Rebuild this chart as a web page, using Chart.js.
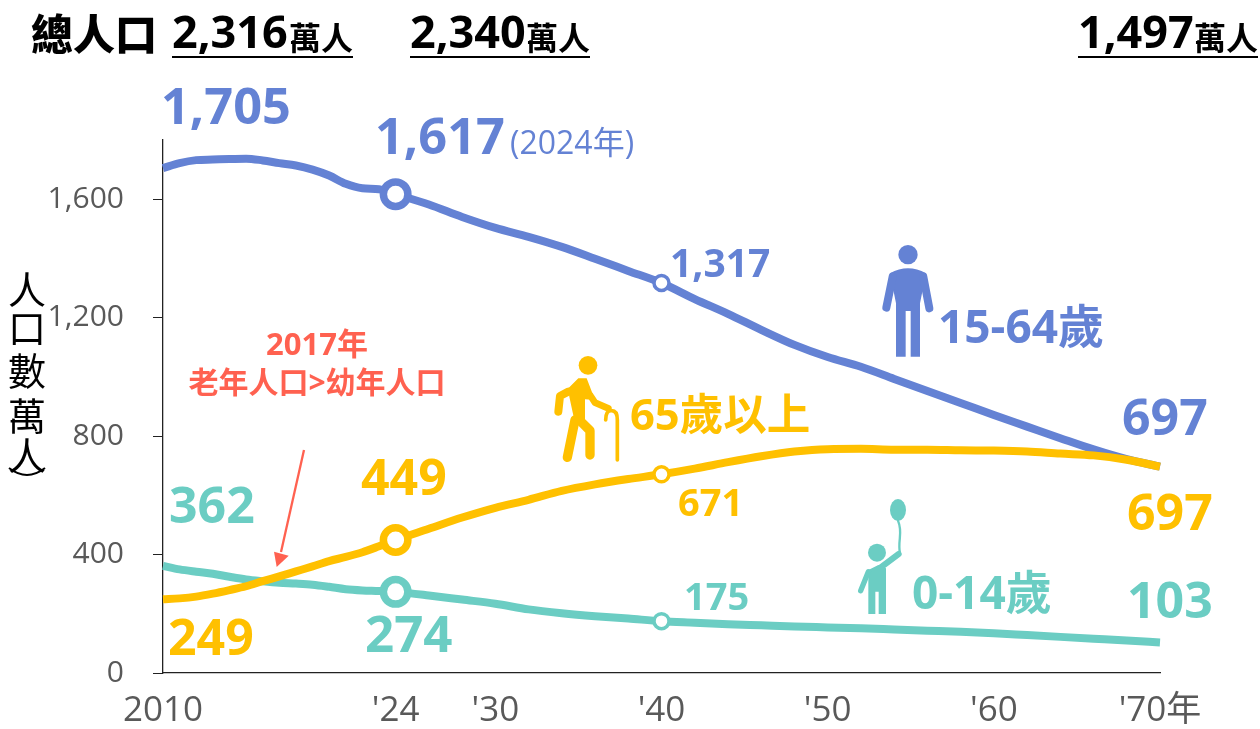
<!DOCTYPE html>
<html><head><meta charset="utf-8">
<style>html,body{margin:0;padding:0;background:#fff}canvas{display:block}</style>
<script src="https://cdn.jsdelivr.net/npm/chart.js@4/dist/chart.umd.min.js"></script>
</head><body><div style="width:1260px;height:729px"><canvas id="c" width="1260" height="729"></canvas></div>
<script>
const years=[2010,2011,2012,2013,2014,2015,2016,2017,2018,2019,2020,2021,2022,2023,2024,2026,2028,2030,2032,2034,2036,2038,2040,2042,2044,2046,2048,2050,2052,2054,2056,2058,2060,2062,2064,2066,2068,2070];
const working=[1705,1722,1732,1734,1736,1737,1731,1722,1714,1700,1680,1652,1637,1634,1617,1582,1540,1503,1473,1439,1399,1358,1317,1263,1213,1159,1108,1067,1034,993,952,912,871,832,793,755,722,697];
const elderly=[249,252,258,268,280,293,310,326,343,360,378,392,408,428,449,487,525,558,585,615,637,655,671,690,712,732,748,756,757,754,754,752,751,748,741,735,720,697];
const children=[362,350,342,335,325,316,310,305,302,298,291,283,279,277,274,262,248,234,215,202,192,184,175,170,165,161,157,154,151,147,143,139,134,128,122,116,110,103];
const xTicks=[2010,2024,2030,2040,2050,2060,2070];
const xTickLabels=["2010","'24","'30","'40","'50","'60","'70年"];
const yTicks=[0,400,800,1200,1600];
const BLUE='#6482D4',GOLD='#FFC000',TEAL='#6BCDC3',RED='#FF6150';
const SANS="'Open Sans','Noto Sans CJK TC',sans-serif";

function markerRadius(ctx){const v=ctx.chart.data.labels[ctx.dataIndex];return v===2024?12.25:v===2040?7.5:0;}
function markerWidth(ctx){const v=ctx.chart.data.labels[ctx.dataIndex];return v===2024?7.5:3.5;}
function series(label,data,color,w,order){
  return {label,data,borderColor:color,borderWidth:w,pointBackgroundColor:'#fff',pointBorderColor:color,
    pointRadius:markerRadius,pointBorderWidth:markerWidth,pointHoverRadius:0,order,clip:false,
    cubicInterpolationMode:'monotone'};
}
function T(c,s,x,y,size,color,weight,align){
  c.font=(weight||700)+' '+size+'px '+SANS;c.fillStyle=color;c.textAlign=align||'left';c.textBaseline='alphabetic';c.fillText(s,x,y);
}
function total(c,num,unit,x,end){
  T(c,num,x,48,45,'#000');
  T(c,unit,end,50,32,'#000',700,'right');
  c.fillStyle='#000';c.fillRect(x,56,end-x,2);
}
function icon(c,ox,oy,fn){c.save();c.translate(ox,oy);c.scale(1/3,1/3);c.lineCap='round';c.lineJoin='round';fn(c);c.restore();}
function poly(c,pts){c.beginPath();pts.forEach((p,i)=>i?c.lineTo(p[0],p[1]):c.moveTo(p[0],p[1]));c.closePath();c.fill();}
function path(c,pts,w){c.lineWidth=w;c.beginPath();pts.forEach((p,i)=>i?c.lineTo(p[0],p[1]):c.moveTo(p[0],p[1]));c.stroke();}
function circle(c,x,y,r){c.beginPath();c.arc(x,y,r,0,Math.PI*2);c.fill();}

const deco={id:'deco',afterDatasetsDraw(ch){
  const c=ch.ctx;c.save();
  T(c,'總人口',31,50,42,'#000',900);
  total(c,'2,316','萬人',172,353);
  total(c,'2,340','萬人',410,590);
  total(c,'1,497','萬人',1078,1258);
  [['人',304],['口',342],['數',385],['萬',430],['人',470]].forEach(p=>T(c,p[0],27,p[1],38,'#000',400,'center'));
  c.strokeStyle='#000';c.lineWidth=2;c.beginPath();c.moveTo(9,468);c.quadraticCurveTo(27,482,45,468);c.stroke();
  T(c,'1,705',161,124,50.5,BLUE);
  T(c,'1,617',375,154,50.5,BLUE);
  T(c,'(2024年)',510,154,32,BLUE,400);
  T(c,'1,317',670,277,39,BLUE);
  T(c,'15-64歲',938,343,46,BLUE);
  T(c,'697',1122,435,50,BLUE);
  T(c,'65歲以上',630,430,43.5,GOLD);
  T(c,'449',361,495,50,GOLD);
  T(c,'671',678,516,38,GOLD);
  T(c,'697',1127,530,50,GOLD);
  T(c,'249',168,655,50,GOLD);
  T(c,'362',169,523,50,TEAL);
  T(c,'274',365,652,51,TEAL);
  T(c,'175',684,610,38,TEAL);
  T(c,'103',1127,618,50,TEAL);
  T(c,'0-14歲',912,609,46,TEAL);
  T(c,'2017年',317,355,31,RED,700,'center');
  T(c,'老年人口>幼年人口',317,393,30,RED,700,'center');
  c.strokeStyle=RED;c.fillStyle=RED;c.lineWidth=2.3;c.beginPath();c.moveTo(304,450);c.lineTo(281,552);c.stroke();
  poly(c,[[276.7,567],[274,551.7],[288.7,555.7]]);
  icon(c,840,230,g=>{g.fillStyle=BLUE;g.strokeStyle=BLUE;
    circle(g,204,74,29);
    g.beginPath();g.moveTo(168,380);g.lineTo(168,220);g.lineTo(150,130);g.quadraticCurveTo(204,100,258,130);g.lineTo(240,220);g.lineTo(240,380);g.lineTo(212,380);g.lineTo(212,243);g.lineTo(197,243);g.lineTo(197,380);g.closePath();g.fill();
    path(g,[[158,140],[139,233]],24);path(g,[[250,140],[268,235]],24);
  });
  icon(c,540,340,g=>{g.fillStyle=GOLD;g.strokeStyle=GOLD;
    circle(g,144,76,28);
    poly(g,[[85,145],[115,115],[140,115],[165,180],[135,178],[135,250],[105,250],[88,170]]);
    path(g,[[85,155],[60,168],[55,215]],24);
    path(g,[[150,165],[165,188],[205,205]],20);
    path(g,[[105,240],[82,352]],28);
    path(g,[[118,240],[150,272],[150,345]],28);
    g.lineWidth=11;g.beginPath();g.moveTo(197,240);g.quadraticCurveTo(197,210,215,212);g.quadraticCurveTo(232,212,232,240);g.lineTo(232,360);g.stroke();
  });
  icon(c,840,490,g=>{g.fillStyle=TEAL;g.strokeStyle=TEAL;
    g.beginPath();g.ellipse(174,60,24,33,0,0,Math.PI*2);g.fill();
    g.lineWidth=7;g.beginPath();g.moveTo(174,92);g.bezierCurveTo(190,130,172,150,180,190);g.stroke();
    circle(g,111,188,27);
    path(g,[[112,240],[176,192]],18);
    poly(g,[[85,372],[85,240],[115,225],[138,235],[138,372],[116,372],[116,305],[106,305],[106,372]]);
    path(g,[[85,245],[62,302]],16);
  });
  c.restore();
}};

new Chart(document.getElementById('c'),{type:'line',
  data:{labels:years,datasets:[series('15-64歲',working,BLUE,8,3),series('0-14歲',children,TEAL,8,2),series('65歲以上',elderly,GOLD,8,1)]},
  options:{responsive:false,animation:false,
    layout:{padding:{left:0,right:100,top:140,bottom:0}},
    plugins:{legend:{display:false},title:{display:false},tooltip:{enabled:false}},
    scales:{
      x:{type:'linear',min:2010,max:2070,
        afterBuildTicks:s=>{s.ticks=xTicks.map(v=>({value:v}));},
        afterFit:s=>{s.height=56;},
        grid:{display:false,drawTicks:false},border:{display:true,color:'#222',width:1.3},
        ticks:{padding:17,maxRotation:0,autoSkip:false,font:{family:SANS,size:35},color:'#595959',
          callback:v=>xTickLabels[xTicks.indexOf(v)]}},
      y:{min:0,max:1800,
        afterBuildTicks:s=>{s.ticks=yTicks.map(v=>({value:v}));},
        afterFit:s=>{s.width=163;},
        grid:{display:true,drawOnChartArea:false,drawTicks:true,tickLength:10,color:'#222',lineWidth:1},border:{display:true,color:'#222',width:1.3},
        ticks:{padding:29,font:{family:SANS,size:30},color:'#595959',callback:v=>v.toLocaleString('en-US')}}
    }},
  plugins:[deco]});
</script></body></html>
